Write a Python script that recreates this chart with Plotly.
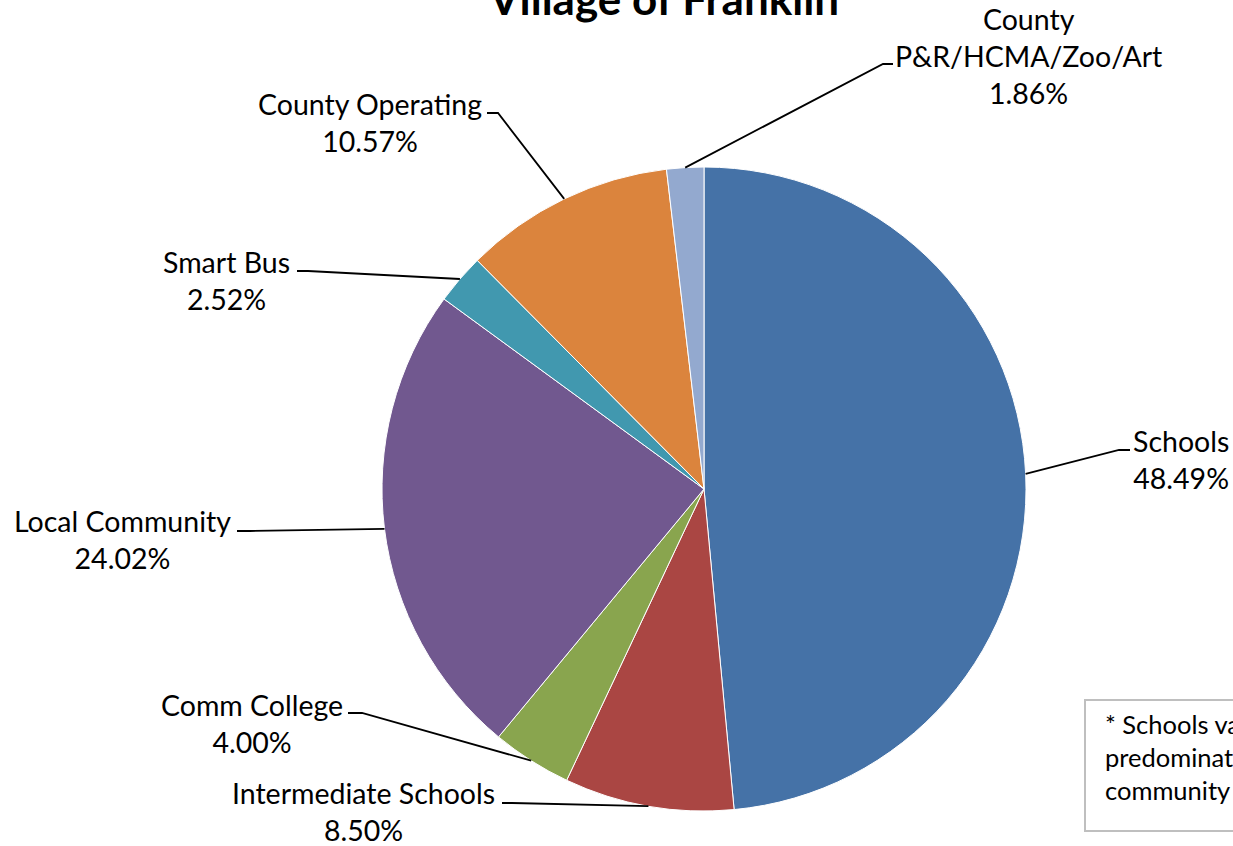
import math
import plotly.graph_objects as go

# Property tax distribution, Village of Franklin
categories = [
    "Schools",
    "Intermediate Schools",
    "Comm College",
    "Local Community",
    "Smart Bus",
    "County Operating",
    "County<br>P&R/HCMA/Zoo/Art",
]
shares = [48.49, 8.50, 4.00, 24.02, 2.52, 10.57, 1.86]
colors = ["#4572A7", "#AA4643", "#89A54E", "#71588F", "#4198AF", "#DB843D", "#93A9CF"]

W, H = 1233, 846
FONT = "Lato"

# pie geometry (pixels)
CX, CY, R = 704, 489, 322

# label anchor (center of the text block) and leader elbow/end, in pixels
label_pos = [
    (1181, 459), (363, 811), (252, 723), (122, 539), (226, 280), (370, 122), (1028, 56),
]
leader_elbow = [
    ((1119, 450), (1130, 450)),
    ((512, 803), (502, 803)),
    ((362, 713), (348, 713)),
    ((250, 531), (237, 531)),
    ((308, 271), (297, 271)),
    ((498, 113), (487, 113)),
    ((883, 64), (893, 64)),
]

fig = go.Figure()

fig.add_trace(go.Pie(
    labels=categories,
    values=shares,
    sort=False,
    direction="clockwise",
    rotation=0,
    marker=dict(colors=colors, line=dict(color="white", width=1)),
    textinfo="none",
    hoverinfo="skip",
    showlegend=False,
    domain=dict(
        x=[(CX - R) / W, (CX + R) / W],
        y=[(H - CY - R) / H, (H - CY + R) / H],
    ),
))

# invisible pixel-space axes used for leader lines and text placement
fig.add_trace(go.Scatter(x=[0, W], y=[0, H], mode="markers",
                         marker=dict(opacity=0), hoverinfo="skip", showlegend=False))

total = sum(shares)
cum = 0.0
shapes = []
annotations = []
for name, v, (lx, ly), (elbow, end) in zip(categories, shares, label_pos, leader_elbow):
    theta = 2 * math.pi * (cum + v / 2) / total
    cum += v
    ex = CX + R * math.sin(theta)
    ey = CY - R * math.cos(theta)
    path = f"M {ex:.1f},{ey:.1f} L {elbow[0]},{elbow[1]} L {end[0]},{end[1]}"
    shapes.append(dict(type="path", xref="x", yref="y", path=path,
                       line=dict(color="black", width=1.8)))
    annotations.append(dict(
        x=lx, y=ly, xref="x", yref="y",
        text=f"{name}<br>{v:.2f}%",
        showarrow=False, xanchor="center", yanchor="middle", align="center",
        font=dict(family=FONT, size=28.5, color="black"),
    ))

# note box in the lower right corner
shapes.append(dict(type="rect", xref="x", yref="y", x0=1085, y0=700, x1=1400, y1=831,
                   line=dict(color="#BFBFBF", width=2), fillcolor="white", layer="below"))
annotations.append(dict(
    x=1103, y=757, xref="x", yref="y",
    text="* Schools values reflect the<br>predominate school district in the<br>community",
    showarrow=False, xanchor="left", yanchor="middle", align="left",
    font=dict(family=FONT, size=25.5, color="black"),
))

# chart title, sitting at the very top edge of the page
annotations.append(dict(
    x=663 / W, y=1 + 2 / H, xref="paper", yref="paper",
    text="<b>Village of Franklin</b>",
    showarrow=False, xanchor="center", yanchor="middle",
    font=dict(family=FONT, size=44, color="black"),
))

fig.update_layout(
    width=W, height=H,
    margin=dict(l=0, r=0, t=0, b=0),
    paper_bgcolor="white", plot_bgcolor="rgba(0,0,0,0)",
    xaxis=dict(range=[0, W], visible=False, fixedrange=True),
    yaxis=dict(range=[H, 0], visible=False, fixedrange=True),
    shapes=shapes,
    annotations=annotations,
)

fig.write_html("out.html")
